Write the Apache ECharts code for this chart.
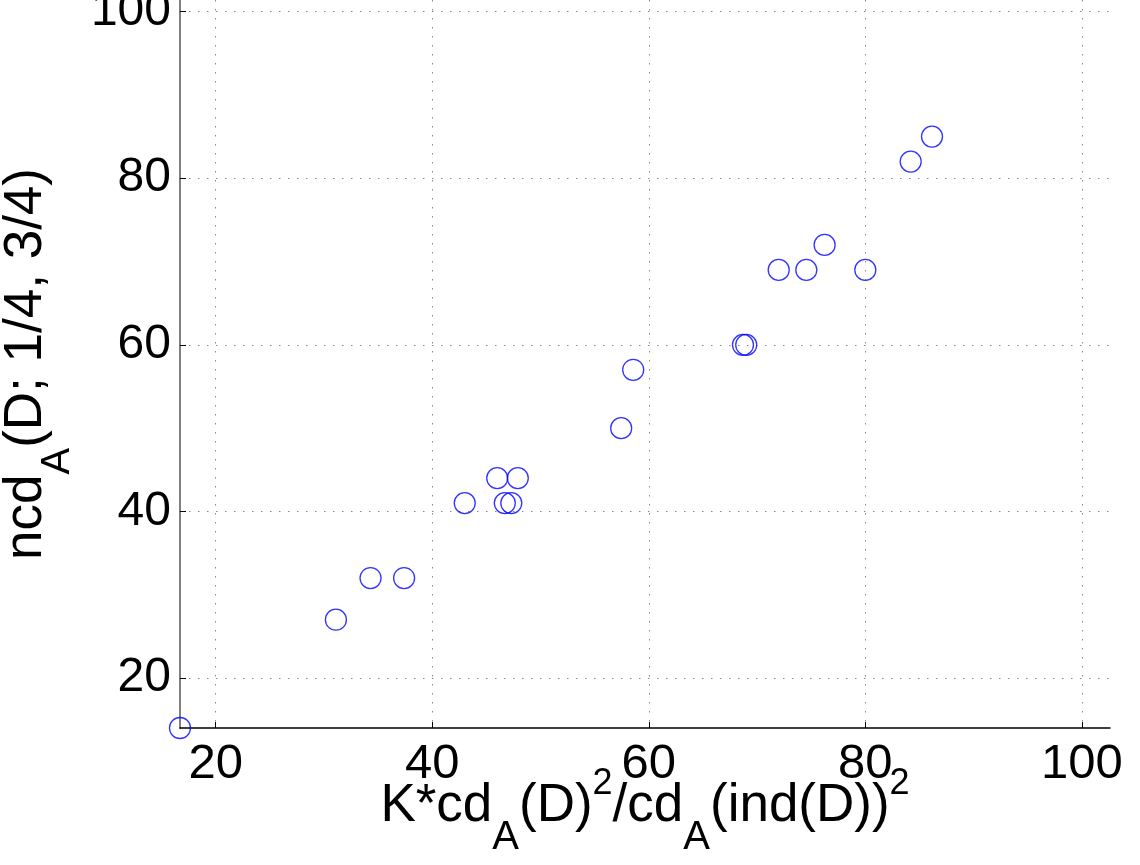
<!DOCTYPE html>
<html>
<head>
<meta charset="utf-8">
<script src="https://cdn.jsdelivr.net/npm/echarts@6/dist/echarts.min.js"></script>
<style>
html,body{margin:0;padding:0;background:#fff;}
#chart{width:1140px;height:865px;}
</style>
</head>
<body>
<div id="chart"></div>
<script>
const xValues = [16.7, 31.1, 34.3, 37.4, 43.0, 46.0, 46.7, 47.3, 47.9, 57.45, 58.56, 68.7, 69.0, 72.0, 74.55, 76.24, 80.0, 84.19, 86.16];
const yValues = [14, 27, 32, 32, 41, 44, 41, 41, 44, 50, 57, 60, 60, 69, 69, 72, 69, 82, 85];
const xTicks = [20, 40, 60, 80, 100];
const yTicks = [20, 40, 60, 80, 100];
const xRange = [16.7, 102.6];
const yRange = [14, 101.4];

const FONT = '"Liberation Sans", Arial, Helvetica, sans-serif';
const points = xValues.map((x, i) => [x, yValues[i]]);

const richStyles = {
  m: { fontSize: 53, fontFamily: FONT, color: '#000', lineHeight: 54, verticalAlign: 'middle' },
  s: { fontSize: 40, fontFamily: FONT, color: '#000', lineHeight: 54, verticalAlign: 'middle', padding: [63, 0, 0, 0] },
  p: { fontSize: 36, fontFamily: FONT, color: '#000', lineHeight: 54, verticalAlign: 'middle', padding: [0, 0, 44, 0] }
};

const chart = echarts.init(document.getElementById('chart'), null, { renderer: 'canvas' });
chart.setOption({
  backgroundColor: '#fff',
  animation: false,
  grid: { left: 180, right: 30, top: 0, bottom: 137, containLabel: false, outerBoundsMode: 'none' },
  xAxis: {
    type: 'value',
    min: xRange[0],
    max: xRange[1],
    name: '{m|K*cd}{s|A}{m|(D)}{p|2}{m|/cd}{s|A}{m|(ind(D))}{p|2}',
    nameLocation: 'middle',
    nameGap: 51,
    nameMoveOverlap: false,
    nameTextStyle: { rich: richStyles },
    axisLine: { show: true, onZero: false, lineStyle: { color: '#000', width: 1.5 } },
    axisTick: { show: true, inside: true, length: 6, customValues: xTicks, lineStyle: { color: '#000', width: 1 } },
    axisLabel: { customValues: xTicks, fontSize: 49, fontFamily: FONT, color: '#000', margin: 12 },
    splitLine: { show: true, lineStyle: { color: '#8a8a8a', width: 1, type: [1.5, 7.5] } }
  },
  yAxis: {
    type: 'value',
    min: yRange[0],
    max: yRange[1],
    name: '{m|ncd}{s|A}{m|(D; 1/4, 3/4)}',
    nameLocation: 'middle',
    nameRotate: 90,
    nameGap: 127,
    nameMoveOverlap: false,
    nameTextStyle: { rich: richStyles },
    axisLine: { show: true, onZero: false, lineStyle: { color: '#808080', width: 2 } },
    axisTick: { show: true, inside: true, length: 6, customValues: yTicks, lineStyle: { color: '#000', width: 1 } },
    axisLabel: { customValues: yTicks, fontSize: 48, fontFamily: FONT, color: '#000', margin: 9 },
    splitLine: { show: true, lineStyle: { color: '#8a8a8a', width: 1, type: [1.5, 7.5] } }
  },
  series: [{
    type: 'scatter',
    data: points,
    symbol: 'circle',
    symbolSize: 21,
    clip: false,
    itemStyle: { color: 'rgba(0,0,0,0)', borderColor: '#0000ff', borderWidth: 1.3 },
    emphasis: { disabled: true }
  }]
});
</script>
</body>
</html>
